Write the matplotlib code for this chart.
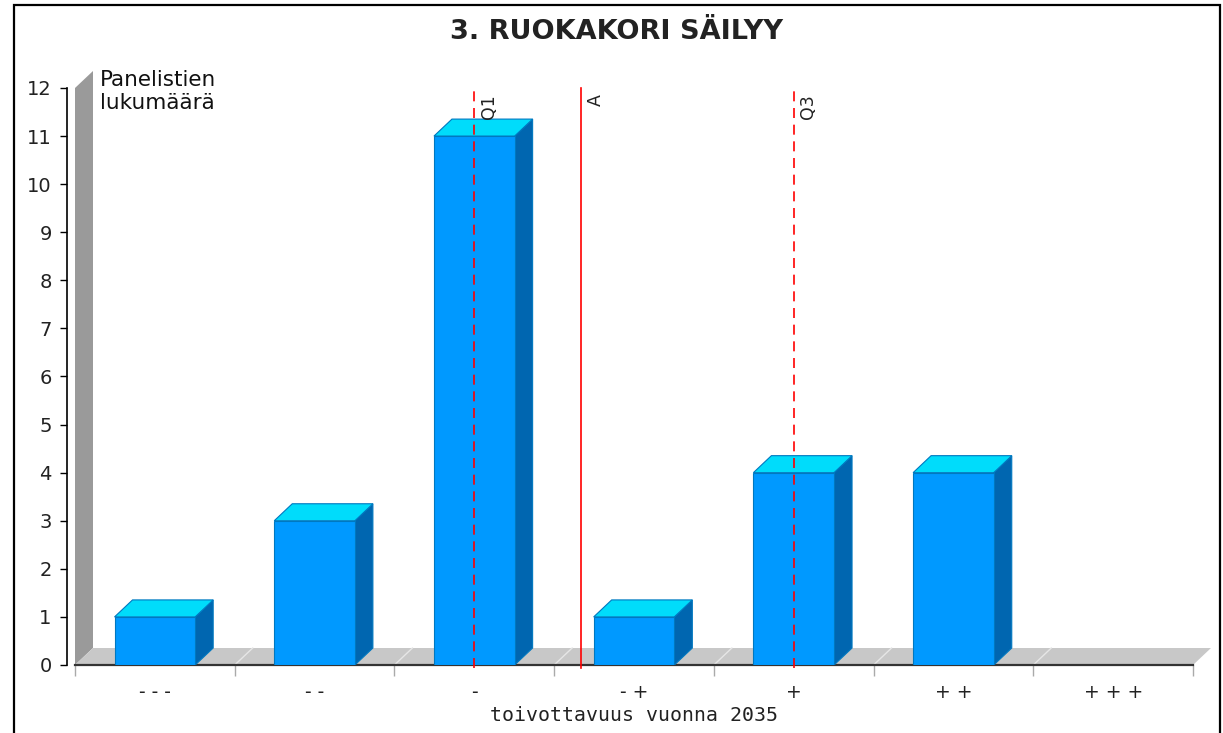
import matplotlib
matplotlib.use("Agg")
import matplotlib.pyplot as plt
from matplotlib.patches import Polygon, Rectangle
import numpy as np

# data
categories = ["- - -", "- -", "-", "- +", "+", "+ +", "+ + +"]
counts = [1, 3, 11, 1, 4, 4, 0]
q1_pos = 2.0
mean_pos = 2.667
q3_pos = 4.0
title = "3. RUOKAKORI SÄILYY"
ylabel = "Panelistien\nlukumäärä"
xlabel = "toivottavuus vuonna 2035"

W, H = 1223, 733
fig = plt.figure(figsize=(W / 100, H / 100), dpi=100)

# axes placed in pixels
ax_l, ax_r, ax_t, ax_b = 67, 1211, 64, 665
ax = fig.add_axes([ax_l / W, (H - ax_b) / H, (ax_r - ax_l) / W, (ax_b - ax_t) / H])

px_x = (1193 - 75) / 7.0
px_y = (665 - 88) / 12.0
dx = 18 / px_x   # depth offset in data units
dy = 17 / px_y
ax.set_xlim(-0.5 - 8 / px_x, 6.5 + dx)
ax.set_ylim(0, (ax_b - ax_t) / px_y)

n = len(categories)
# wall and floor
ax.add_patch(Polygon([(-0.5, 0), (-0.5, 12), (-0.5 + dx, 12 + dy), (-0.5 + dx, dy)],
                     closed=True, fc="#9a9a9a", ec="none", zorder=1))
ax.add_patch(Polygon([(-0.5, 0), (n - 0.5, 0), (n - 0.5 + dx, dy), (-0.5 + dx, dy)],
                     closed=True, fc="#c8c8c8", ec="none", zorder=1))
for k in range(1, n):
    ax.plot([k - 0.5, k - 0.5 + dx], [0, dy], color="#e6e6e6", lw=1, zorder=1.5)
ax.plot([-0.5, n - 0.5], [0, 0], color="#333333", lw=1.6, zorder=2, clip_on=False)

# bars
bw = 0.505
front_c, top_c, side_c, edge_c = "#0099ff", "#00dcfb", "#0066b0", "#0078c0"
for i, v in enumerate(counts):
    if v <= 0:
        continue
    x0 = i - bw / 2
    x1 = i + bw / 2
    ax.add_patch(Polygon([(x1, 0), (x1 + dx, dy), (x1 + dx, v + dy), (x1, v)],
                         closed=True, fc=side_c, ec=edge_c, lw=0.8, zorder=3))
    ax.add_patch(Polygon([(x0, v), (x1, v), (x1 + dx, v + dy), (x0 + dx, v + dy)],
                         closed=True, fc=top_c, ec=edge_c, lw=0.8, zorder=3))
    ax.add_patch(Rectangle((x0, 0), bw, v, fc=front_c, ec=edge_c, lw=0.8, zorder=3.5))

# quartile and mean lines
for pos, lab, ls in [(q1_pos, "Q1", (0, (6, 4))), (mean_pos, "A", "-"), (q3_pos, "Q3", (0, (6, 4)))]:
    ax.plot([pos, pos], [-0.06, 12], color="#ff0000", lw=1.2, linestyle=ls, zorder=5, clip_on=False)
    ax.text(pos + 0.035, 11.88, lab, rotation=90, ha="left", va="top",
            fontsize=12.5, color="#222222", zorder=6)

# spines and ticks
for s in ["top", "right", "bottom"]:
    ax.spines[s].set_visible(False)
ax.spines["left"].set_bounds(0, 12)
ax.spines["left"].set_linewidth(1.2)
ax.set_yticks(range(0, 13))
ax.tick_params(axis="y", direction="out", length=5, width=1, pad=6, labelsize=14,
               labelcolor="#222222")

ax.set_xticks(range(n))
ax.set_xticklabels(categories, fontsize=13.5, color="#222222")
ax.tick_params(axis="x", which="major", length=0, pad=13)
ax.set_xticks(np.arange(-0.5, n, 1.0), minor=True)
ax.tick_params(axis="x", which="minor", length=8, width=1, color="#aaaaaa", direction="out")

ax.text(3.0, -0.068, xlabel, transform=ax.get_xaxis_transform(), ha="center", va="top",
        family="DejaVu Sans Mono", fontsize=14.3, color="#222222")
ax.text(-0.5 + dx + 0.045, 12.38, ylabel, ha="left", va="top", fontsize=15.5,
        linespacing=1.2, color="#111111")

fig.text(617 / W, 1 - 32 / H, title, ha="center", va="center", fontsize=19.5,
         fontweight="bold", color="#222222")

# outer frame
fig.add_artist(Rectangle((13.5 / W, -0.01), (1220 - 13.5) / W, 1 - 5 / H + 0.01,
                         transform=fig.transFigure, fill=False, ec="black", lw=1.6))

fig.savefig("out.png", dpi=100)
